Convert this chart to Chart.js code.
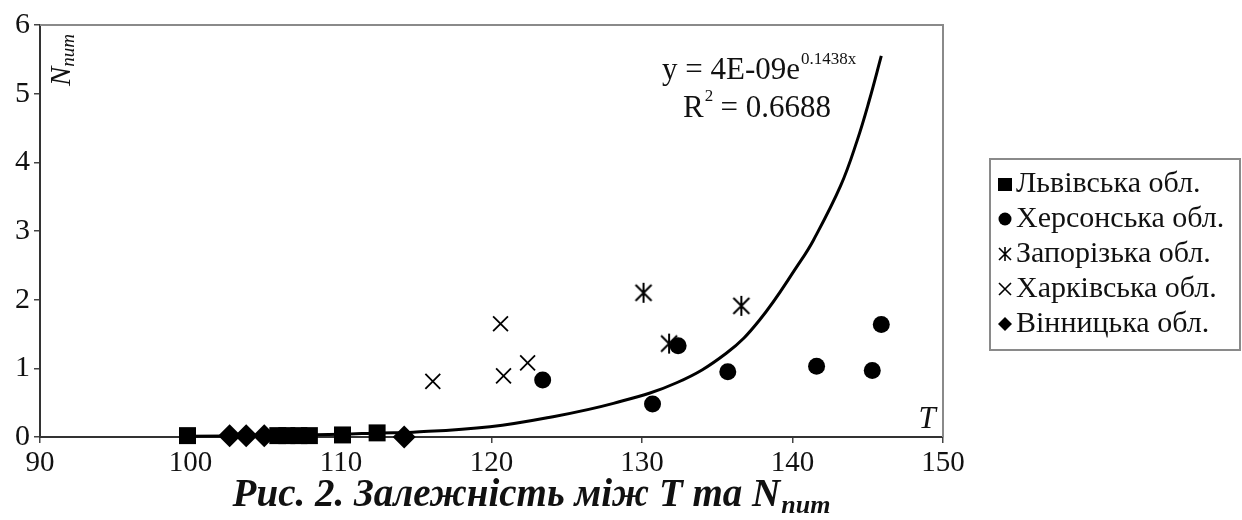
<!DOCTYPE html>
<html>
<head>
<meta charset="utf-8">
<script src="https://cdn.jsdelivr.net/npm/chart.js@4/dist/chart.umd.min.js"></script>
<style>
  html, body { margin: 0; padding: 0; background: #fff; }
  #wrap { width: 1242px; height: 520px; }
</style>
</head>
<body>
<div id="wrap"><canvas id="chart" width="1242" height="520"></canvas></div>
<script>
// Data (T on x, N_num on y)
const lvivT = [99.8, 105.8, 106.4, 107.2, 107.9, 110.1, 112.4];
const lvivN = [0.02, 0.02, 0.02, 0.02, 0.02, 0.03, 0.06];

const khersonT = [123.4, 130.7, 132.4, 135.7, 141.6, 145.3, 145.9];
const khersonN = [0.83, 0.48, 1.33, 0.95, 1.03, 0.97, 1.64];

const zapT = [130.1, 131.8, 136.6];
const zapN = [2.10, 1.36, 1.91];

const kharkivT = [116.1, 120.6, 120.8, 122.4];
const kharkivN = [0.81, 1.65, 0.89, 1.08];

const vinnT = [102.6, 103.7, 104.9, 114.2];
const vinnN = [0.02, 0.02, 0.02, 0.0];

// exponential trend line
const trendT = [99.8, 105, 110, 112.6, 114.8, 119.9, 123.7, 128.1, 132.3, 135.6, 137.8, 140.5, 141.4, 143.2, 144.3, 145.1, 145.9];
const trendN = [0.01, 0.02, 0.04, 0.06, 0.07, 0.15, 0.28, 0.49, 0.79, 1.22, 1.70, 2.55, 2.87, 3.66, 4.32, 4.90, 5.55];

const legendLabels = ['Львівська обл.', 'Херсонська обл.', 'Запорізька обл.', 'Харківська обл.', 'Вінницька обл.'];
const xTicks = [90, 100, 110, 120, 130, 140, 150];
const yTicks = [0, 1, 2, 3, 4, 5, 6];

const SERIF = '"Liberation Serif", "DejaVu Serif", serif';

function pts(xs, ys) {
    return xs.map((x, i) => ({ x: x, y: ys[i] }));
}

// asterisk marker (x with a vertical bar), like the one in the original
function makeAsterisk(size, lw) {
    const c = document.createElement('canvas');
    c.width = size; c.height = size;
    const g = c.getContext('2d');
    const h = size / 2, r = size / 2 - lw;
    g.strokeStyle = '#000';
    g.lineWidth = lw;
    g.beginPath();
    g.moveTo(h - r * 0.8, h - r * 0.8); g.lineTo(h + r * 0.8, h + r * 0.8);
    g.moveTo(h + r * 0.8, h - r * 0.8); g.lineTo(h - r * 0.8, h + r * 0.8);
    g.moveTo(h, h - r); g.lineTo(h, h + r);
    g.stroke();
    return c;
}

const asteriskBig = makeAsterisk(24, 2);

// gray frame round the plot area
const framePlugin = {
    id: 'frame',
    beforeDatasetsDraw(chart) {
        const a = chart.chartArea;
        const ctx = chart.ctx;
        ctx.save();
        ctx.strokeStyle = '#8a8a8a';
        ctx.lineWidth = 2;
        ctx.beginPath();
        ctx.moveTo(a.left, a.top);
        ctx.lineTo(a.right, a.top);
        ctx.lineTo(a.right, a.bottom);
        ctx.stroke();
        ctx.restore();
    }
};

function drawLegendMarker(ctx, kind, x, y) {
    ctx.save();
    ctx.fillStyle = '#000';
    ctx.strokeStyle = '#000';
    ctx.lineWidth = 1.6;
    ctx.beginPath();
    if (kind === 0) {
        ctx.fillRect(x - 7, y - 6, 14, 13);
    } else if (kind === 1) {
        ctx.arc(x, y, 6.5, 0, Math.PI * 2);
        ctx.fill();
    } else if (kind === 2) {
        ctx.moveTo(x - 6, y - 6); ctx.lineTo(x + 6, y + 6);
        ctx.moveTo(x + 6, y - 6); ctx.lineTo(x - 6, y + 6);
        ctx.moveTo(x, y - 7); ctx.lineTo(x, y + 7);
        ctx.stroke();
    } else if (kind === 3) {
        ctx.moveTo(x - 6, y - 6); ctx.lineTo(x + 6, y + 6);
        ctx.moveTo(x + 6, y - 6); ctx.lineTo(x - 6, y + 6);
        ctx.stroke();
    } else {
        ctx.moveTo(x, y - 7); ctx.lineTo(x + 7, y);
        ctx.lineTo(x, y + 7); ctx.lineTo(x - 7, y);
        ctx.closePath();
        ctx.fill();
    }
    ctx.restore();
}

// texts: equation, axis titles, legend box and caption
const textPlugin = {
    id: 'texts',
    afterDraw(chart) {
        const ctx = chart.ctx;
        ctx.save();
        ctx.fillStyle = '#111';
        ctx.textBaseline = 'alphabetic';

        // trend equation
        ctx.font = '31px ' + SERIF;
        ctx.textAlign = 'left';
        const eq = 'y = 4E-09e';
        ctx.fillText(eq, 662, 79);
        const w = ctx.measureText(eq).width;
        ctx.font = '17px ' + SERIF;
        ctx.fillText('0.1438x', 662 + w + 1, 64);
        ctx.font = '31px ' + SERIF;
        ctx.fillText('R', 683, 117);
        const rw = ctx.measureText('R').width;
        ctx.font = '17px ' + SERIF;
        ctx.fillText('2', 683 + rw + 1, 101);
        ctx.font = '31px ' + SERIF;
        ctx.fillText(' = 0.6688', 683 + rw + 9, 117);

        // T label
        ctx.font = 'italic 31px ' + SERIF;
        ctx.textAlign = 'center';
        ctx.fillText('T', 927, 428);

        // N_num rotated
        ctx.save();
        ctx.translate(70, 86);
        ctx.rotate(-Math.PI / 2);
        ctx.textAlign = 'left';
        ctx.font = 'italic 29px ' + SERIF;
        ctx.fillText('N', 0, 0);
        const nw = ctx.measureText('N').width;
        ctx.font = 'italic 19px ' + SERIF;
        ctx.fillText('num', nw, 4);
        ctx.restore();

        // legend box
        ctx.strokeStyle = '#8a8a8a';
        ctx.lineWidth = 2;
        ctx.strokeRect(990, 159, 250, 191);
        ctx.font = '30px ' + SERIF;
        ctx.textAlign = 'left';
        ctx.fillStyle = '#111';
        legendLabels.forEach((lab, i) => {
            const base = 192 + i * 35;
            drawLegendMarker(ctx, i, 1005, base - 8);
            ctx.fillText(lab, 1016, base);
        });

        // caption
        const capMain = 'Рис. 2. Залежність між T та N';
        ctx.font = 'italic bold 39px ' + SERIF;
        const mw = ctx.measureText(capMain).width;
        ctx.font = 'italic bold 26px ' + SERIF;
        const sw = ctx.measureText('num').width;
        const x0 = 531 - (mw + sw) / 2;
        ctx.font = 'italic bold 39px ' + SERIF;
        ctx.fillText(capMain, x0, 506);
        ctx.font = 'italic bold 26px ' + SERIF;
        ctx.fillText('num', x0 + mw + 1, 513);

        ctx.restore();
    }
};

const ctx = document.getElementById('chart').getContext('2d');
const chart = new Chart(ctx, {
    type: 'scatter',
    data: {
        datasets: [
            {
                label: 'trend',
                type: 'line',
                data: pts(trendT, trendN),
                borderColor: '#000',
                borderWidth: 3,
                pointRadius: 0,
                showLine: true,
                fill: false,
                tension: 0.4,
                clip: false,
                order: 0
            },
            {
                label: legendLabels[0],
                data: pts(lvivT, lvivN),
                pointStyle: 'rect',
                pointRadius: 12,
                backgroundColor: '#000',
                borderColor: '#000',
                borderWidth: 0,
                clip: false,
                order: 1
            },
            {
                label: legendLabels[1],
                data: pts(khersonT, khersonN),
                pointStyle: 'circle',
                pointRadius: 8.5,
                backgroundColor: '#000',
                borderColor: '#000',
                borderWidth: 0,
                clip: false,
                order: 1
            },
            {
                label: legendLabels[2],
                data: pts(zapT, zapN),
                pointStyle: asteriskBig,
                clip: false,
                order: 2
            },
            {
                label: legendLabels[3],
                data: pts(kharkivT, kharkivN),
                pointStyle: 'crossRot',
                pointRadius: 10.5,
                borderColor: '#000',
                borderWidth: 1.8,
                clip: false,
                order: 2
            },
            {
                label: legendLabels[4],
                data: pts(vinnT, vinnN),
                pointStyle: 'rectRot',
                pointRadius: 11.5,
                backgroundColor: '#000',
                borderColor: '#000',
                borderWidth: 0,
                clip: false,
                order: 1
            }
        ]
    },
    options: {
        responsive: false,
        devicePixelRatio: 1,
        animation: false,
        layout: { padding: { top: 25, right: 299, left: 0, bottom: 0 } },
        plugins: {
            legend: { display: false },
            tooltip: { enabled: false }
        },
        scales: {
            x: {
                type: 'linear',
                min: 90,
                max: 150,
                afterFit: s => { s.height = 83; },
                afterBuildTicks: s => { s.ticks = xTicks.map(v => ({ value: v })); },
                grid: { drawOnChartArea: false, drawTicks: true, tickLength: 6, color: '#444', lineWidth: 1.5 },
                border: { display: true, color: '#333', width: 2 },
                ticks: { font: { family: SERIF, size: 29 }, color: '#111', padding: 3, maxRotation: 0 }
            },
            y: {
                type: 'linear',
                min: 0,
                max: 6,
                afterFit: s => { s.width = 40; },
                afterBuildTicks: s => { s.ticks = yTicks.map(v => ({ value: v })); },
                grid: { drawOnChartArea: false, drawTicks: true, tickLength: 6, color: '#444', lineWidth: 1.5 },
                border: { display: true, color: '#333', width: 2 },
                ticks: { font: { family: SERIF, size: 30 }, color: '#111', padding: 4 }
            }
        }
    },
    plugins: [framePlugin, textPlugin]
});
</script>
</body>
</html>
